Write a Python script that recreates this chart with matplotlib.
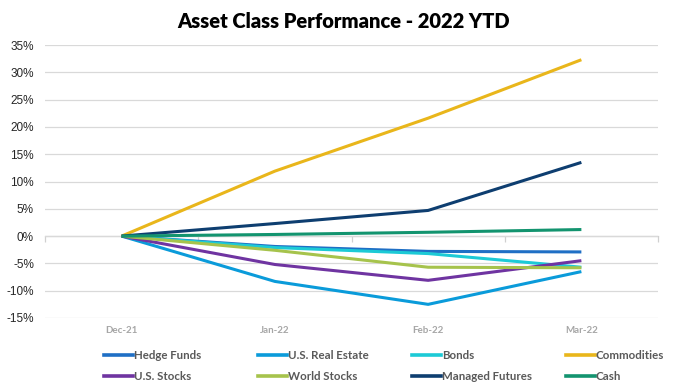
import matplotlib
matplotlib.use("Agg")
import matplotlib.pyplot as plt
from matplotlib.ticker import FuncFormatter, FixedLocator
from matplotlib.lines import Line2D

months = ["Dec-21", "Jan-22", "Feb-22", "Mar-22"]
hedge_funds = [0.0, -1.9, -2.8, -2.9]
us_real_estate = [0.0, -8.3, -12.5, -6.5]
bonds = [0.0, -2.1, -3.2, -5.7]
commodities = [0.0, 11.9, 21.6, 32.3]
us_stocks = [0.0, -5.2, -8.1, -4.5]
world_stocks = [0.0, -2.6, -5.7, -5.8]
managed_futures = [0.0, 2.3, 4.7, 13.5]
cash = [0.0, 0.3, 0.7, 1.2]

series = [
    ("Hedge Funds", hedge_funds, "#1F6FC5"),
    ("U.S. Real Estate", us_real_estate, "#0A9BDA"),
    ("Bonds", bonds, "#1CCAD6"),
    ("Commodities", commodities, "#E9B61B"),
    ("U.S. Stocks", us_stocks, "#6F34A1"),
    ("World Stocks", world_stocks, "#A6C34C"),
    ("Managed Futures", managed_futures, "#0E3E70"),
    ("Cash", cash, "#13946F"),
]
y_ticks = [35, 30, 25, 20, 15, 10, 5, 0, -5, -10, -15]

W, H = 688, 386
fig = plt.figure(figsize=(W / 100, H / 100), dpi=100)
ax = fig.add_axes([45 / W, 1 - 318 / H, (658 - 45) / W, (318 - 45) / H])

x = list(range(len(months)))
handles = {}
for name, vals, col in series:
    ax.plot(x, vals, color=col, lw=2.2, solid_capstyle="butt", solid_joinstyle="round", zorder=3)
    handles[name] = Line2D([], [], color=col, lw=2.6)

ax.set_xlim(-0.5, len(months) - 0.5)
ax.set_ylim(min(y_ticks), max(y_ticks))
ax.yaxis.set_major_locator(FixedLocator(y_ticks))
ax.yaxis.set_major_formatter(FuncFormatter(lambda v, p: f"{v:.0f}%"))
ax.grid(axis="y", color="#D9D9D9", lw=0.9, zorder=0)
for s in ax.spines.values():
    s.set_visible(False)
ax.tick_params(axis="y", length=0, pad=8, labelsize=8.5, labelcolor="#262626")
for lab in ax.get_yticklabels():
    lab.set_fontfamily("Liberation Sans")
ax.set_xticks(x)
ax.set_xticklabels(months, fontfamily="Lato", fontweight="bold", fontsize=7, color="#A6A6A6")
ax.tick_params(axis="x", length=0, pad=6)

# zero axis with category-boundary tick marks
zero_loc = (0 - min(y_ticks)) / (max(y_ticks) - min(y_ticks))
sec = ax.secondary_xaxis(zero_loc)
sec.set_xticks([i - 0.5 for i in range(len(months) + 1)])
sec.set_xticklabels([])
sec.tick_params(axis="x", direction="out", length=4, color="#D0D0D0", width=0.9)
sec.spines["bottom"].set_color("#D0D0D0")
sec.spines["bottom"].set_linewidth(0.9)

fig.text(0.5, 1 - 22 / H, "Asset Class Performance - 2022 YTD", ha="center", va="center",
         fontfamily="Lato", fontweight="heavy", fontsize=14.5, color="#000000")

names = [s[0] for s in series]
col_x = [104, 258, 412, 566]
for c in range(4):
    items = [names[c], names[c + 4]]
    leg = fig.legend([handles[n] for n in items], items, loc="upper left",
                     bbox_to_anchor=(col_x[c] / W, 1 - 350 / H), frameon=False,
                     ncol=1, borderpad=0, borderaxespad=0, handlelength=2.5,
                     handletextpad=0.1, labelspacing=0.85,
                     prop={"family": "Lato", "weight": "bold", "size": 8.3})
    for t in leg.get_texts():
        t.set_color("#595959")

fig.savefig("out.png", dpi=100)
